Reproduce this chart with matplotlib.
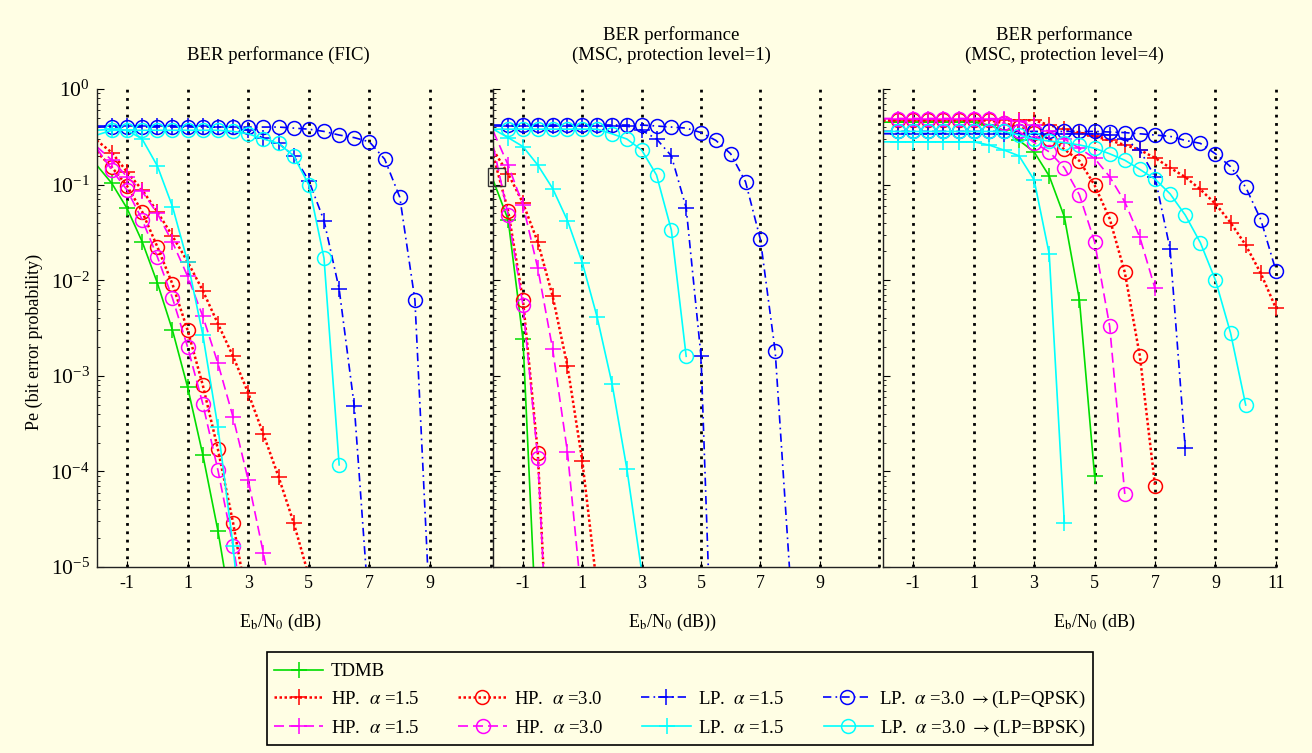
import matplotlib
matplotlib.use('Agg')
import matplotlib.pyplot as plt
from matplotlib.lines import Line2D
from matplotlib.patches import Rectangle

# Eb/N0 grid (dB), every curve starts at -2 dB
EBN0 = [-2.0, -1.5, -1.0, -0.5, 0.0, 0.5, 1.0, 1.5, 2.0, 2.5, 3.0, 3.5, 4.0, 4.5,
        5.0, 5.5, 6.0, 6.5, 7.0, 7.5, 8.0, 8.5, 9.0, 9.5, 10.0, 10.5, 11.0]

# ---- panel 1: FIC ----
FIC_TDMB = [0.16, 0.103, 0.0565, 0.0253, 0.0094, 0.003, 7.6e-4, 1.5e-4, 2.4e-5, 2.7e-6]
FIC_HP15_RED = [0.29, 0.216, 0.136, 0.088, 0.052, 0.029, 0.0156, 0.0078, 0.0035, 0.0016,
                6.6e-4, 2.45e-4, 8.8e-5, 2.9e-5, 8e-6]
FIC_HP30_RED = [0.22, 0.152, 0.097, 0.052, 0.0224, 0.0091, 0.003, 8.0e-4, 1.7e-4, 2.9e-5, 3.8e-6]
FIC_LP15_BLUE = [0.41, 0.41, 0.41, 0.41, 0.41, 0.41, 0.41, 0.41, 0.40, 0.40, 0.37, 0.305,
                 0.27, 0.20, 0.11, 0.042, 0.0081, 4.8e-4, 3e-6]
FIC_LP30_BLUE = [0.40, 0.40, 0.40, 0.40, 0.40, 0.40, 0.40, 0.40, 0.40, 0.40, 0.40, 0.40,
                 0.40, 0.39, 0.38, 0.36, 0.33, 0.31, 0.28, 0.185, 0.074, 0.0062, 3e-6]
FIC_HP15_MAG = [0.25, 0.18, 0.121, 0.085, 0.05, 0.025, 0.011, 0.0042, 0.00135, 3.7e-4,
                8.1e-5, 1.4e-5, 2e-6]
FIC_HP30_MAG = [0.24, 0.142, 0.088, 0.043, 0.0176, 0.0065, 0.002, 5.1e-4, 1.03e-4, 1.66e-5, 2e-6]
FIC_LP15_CYAN = [0.37, 0.38, 0.37, 0.30, 0.157, 0.059, 0.0156, 0.0027, 2.9e-4, 1.66e-5, 4e-7]
FIC_LP30_CYAN = [0.33, 0.37, 0.37, 0.37, 0.37, 0.37, 0.37, 0.37, 0.37, 0.36, 0.34, 0.30,
                 0.27, 0.20, 0.099, 0.017, 1.17e-4]

# ---- panel 2: MSC, protection level 1 ----
MSC1_TDMB = [0.11, 0.043, 0.0024, 1e-6]
MSC1_HP15_RED = [0.23, 0.13, 0.064, 0.025, 0.0068, 0.00126, 1.28e-4, 6e-6]
MSC1_HP30_RED = [0.2, 0.053, 0.0062, 1.55e-4, 1e-7]
MSC1_LP15_BLUE = [0.41, 0.41, 0.41, 0.41, 0.41, 0.41, 0.41, 0.41, 0.41, 0.41, 0.37, 0.30,
                  0.20, 0.057, 0.0016, 5e-8]
MSC1_LP30_BLUE = [0.42, 0.42, 0.42, 0.42, 0.42, 0.42, 0.42, 0.42, 0.42, 0.42, 0.42, 0.41,
                  0.40, 0.39, 0.35, 0.29, 0.21, 0.107, 0.0268, 0.0018, 8e-6]
MSC1_HP15_MAG = [0.36, 0.16, 0.061, 0.0133, 0.0019, 1.58e-4, 4e-6]
MSC1_HP30_MAG = [0.25, 0.048, 0.0055, 1.37e-4, 1e-7]
MSC1_LP15_CYAN = [0.38, 0.31, 0.25, 0.16, 0.091, 0.042, 0.0152, 0.0041, 8.3e-4, 1.07e-4, 9e-6]
MSC1_LP30_CYAN = [0.38, 0.38, 0.38, 0.38, 0.38, 0.38, 0.38, 0.38, 0.34, 0.30, 0.23, 0.126,
                  0.0335, 0.0016]

# ---- panel 3: MSC, protection level 4 ----
MSC4_TDMB = [0.45, 0.45, 0.45, 0.45, 0.45, 0.45, 0.45, 0.42, 0.37, 0.29, 0.22, 0.123,
             0.046, 0.0062, 9e-5]
MSC4_HP15_RED = [0.47, 0.47, 0.47, 0.47, 0.47, 0.47, 0.47, 0.47, 0.47, 0.47, 0.47, 0.42,
                 0.38, 0.35, 0.32, 0.29, 0.26, 0.23, 0.19, 0.15, 0.12, 0.089, 0.063, 0.04,
                 0.0233, 0.0118, 0.0051]
MSC4_HP30_RED = [0.47, 0.47, 0.47, 0.47, 0.47, 0.47, 0.47, 0.47, 0.44, 0.40, 0.35, 0.30,
                 0.234, 0.177, 0.099, 0.044, 0.0121, 0.0016, 7.1e-5]
MSC4_LP15_BLUE = [0.34, 0.34, 0.34, 0.34, 0.34, 0.34, 0.34, 0.34, 0.34, 0.34, 0.34, 0.34,
                  0.34, 0.34, 0.34, 0.33, 0.30, 0.23, 0.12, 0.021, 1.74e-4]
MSC4_LP30_BLUE = [0.36, 0.36, 0.36, 0.36, 0.36, 0.36, 0.36, 0.36, 0.36, 0.36, 0.36, 0.36,
                  0.36, 0.36, 0.36, 0.355, 0.35, 0.34, 0.33, 0.32, 0.29, 0.27, 0.21, 0.154,
                  0.094, 0.043, 0.0126]
MSC4_HP15_MAG = [0.49, 0.49, 0.49, 0.49, 0.49, 0.49, 0.49, 0.49, 0.49, 0.46, 0.42, 0.36,
                 0.30, 0.24, 0.188, 0.121, 0.066, 0.028, 0.0082]
MSC4_HP30_MAG = [0.49, 0.49, 0.49, 0.49, 0.49, 0.49, 0.49, 0.49, 0.44, 0.36, 0.275, 0.22,
                 0.15, 0.078, 0.0253, 0.0033, 5.8e-5]
MSC4_LP15_CYAN = [0.28, 0.28, 0.28, 0.28, 0.28, 0.28, 0.28, 0.26, 0.23, 0.20, 0.112,
                  0.0188, 2.9e-5]
MSC4_LP30_CYAN = [0.36, 0.36, 0.36, 0.36, 0.36, 0.36, 0.36, 0.36, 0.36, 0.33, 0.30, 0.285,
                  0.275, 0.26, 0.24, 0.21, 0.18, 0.144, 0.114, 0.08, 0.048, 0.0247, 0.010,
                  0.0028, 4.95e-4]

TITLES = ['BER performance (FIC)',
          'BER performance\n(MSC, protection level=1)',
          'BER performance\n(MSC, protection level=4)']
XLABELS = [r'E$_\mathrm{b}$/N$_\mathrm{0}$ (dB)',
           r'E$_\mathrm{b}$/N$_\mathrm{0}$ (dB))',
           r'E$_\mathrm{b}$/N$_\mathrm{0}$ (dB)']
XTICKS = [[-1, 1, 3, 5, 7, 9], [-1, 1, 3, 5, 7, 9], [-1, 1, 3, 5, 7, 9, 11]]
GRID_X = [-1, 1, 3, 5, 7, 9, 11]

LABELS = {
    'tdmb': 'TDMB',
    'hp15_q': r'HP.  $\alpha$ =1.5', 'hp30_q': r'HP.  $\alpha$ =3.0',
    'lp15_q': r'LP.  $\alpha$ =1.5', 'lp30_q': r'LP.  $\alpha$ =3.0 $\rightarrow$(LP=QPSK)',
    'hp15_b': r'HP.  $\alpha$ =1.5', 'hp30_b': r'HP.  $\alpha$ =3.0',
    'lp15_b': r'LP.  $\alpha$ =1.5', 'lp30_b': r'LP.  $\alpha$ =3.0 $\rightarrow$(LP=BPSK)',
}
LEGEND_ROWS = [['tdmb'],
               ['hp15_q', 'hp30_q', 'lp15_q', 'lp30_q'],
               ['hp15_b', 'hp30_b', 'lp15_b', 'lp30_b']]

DOT = (0, (1, 1))
DASH = (0, (6, 3))
DASHDOT = (0, (5, 2.5, 1, 2.5))
# color, linestyle, marker, linewidth
STYLE = {
    'tdmb': ('#00dd00', '-', '+', 1.2),
    'hp15_q': ('#ff0000', DOT, '+', 1.8),
    'hp30_q': ('#ff0000', DOT, 'o', 1.8),
    'lp15_q': ('#0000ff', DASHDOT, '+', 1.2),
    'lp30_q': ('#0000ff', DASHDOT, 'o', 1.2),
    'hp15_b': ('#ff00ff', DASH, '+', 1.2),
    'hp30_b': ('#ff00ff', DASH, 'o', 1.2),
    'lp15_b': ('#00ffff', '-', '+', 1.2),
    'lp30_b': ('#00ffff', '-', 'o', 1.2),
}
MS = {'+': 11.5, 'o': 10}

PANELS = [
    {'tdmb': FIC_TDMB, 'hp15_q': FIC_HP15_RED, 'hp30_q': FIC_HP30_RED,
     'lp15_q': FIC_LP15_BLUE, 'lp30_q': FIC_LP30_BLUE, 'hp15_b': FIC_HP15_MAG,
     'hp30_b': FIC_HP30_MAG, 'lp15_b': FIC_LP15_CYAN, 'lp30_b': FIC_LP30_CYAN},
    {'tdmb': MSC1_TDMB, 'hp15_q': MSC1_HP15_RED, 'hp30_q': MSC1_HP30_RED,
     'lp15_q': MSC1_LP15_BLUE, 'lp30_q': MSC1_LP30_BLUE, 'hp15_b': MSC1_HP15_MAG,
     'hp30_b': MSC1_HP30_MAG, 'lp15_b': MSC1_LP15_CYAN, 'lp30_b': MSC1_LP30_CYAN},
    {'tdmb': MSC4_TDMB, 'hp15_q': MSC4_HP15_RED, 'hp30_q': MSC4_HP30_RED,
     'lp15_q': MSC4_LP15_BLUE, 'lp30_q': MSC4_LP30_BLUE, 'hp15_b': MSC4_HP15_MAG,
     'hp30_b': MSC4_HP30_MAG, 'lp15_b': MSC4_LP15_CYAN, 'lp30_b': MSC4_LP30_CYAN},
]

plt.rcParams['font.family'] = ['Liberation Serif', 'DejaVu Serif']
plt.rcParams['mathtext.fontset'] = 'stix'
plt.rcParams['axes.unicode_minus'] = False
plt.rcParams['font.size'] = 13

BG = '#fffee4'
YMIN, YMAX = 1e-5, 1.0


def draw_series(ax, key, values):
    color, ls, marker, lw = STYLE[key]
    xs = EBN0[:len(values)]
    ax.plot(xs, values, color=color, linestyle=ls, linewidth=lw)
    # markers are not clipped at the axes edge, but the line is
    pts = [(x, y) for x, y in zip(xs, values) if x > -2 and y >= YMIN]
    ax.plot([p[0] for p in pts], [p[1] for p in pts], linestyle='none', marker=marker,
            markersize=MS[marker], markerfacecolor='none', markeredgecolor=color,
            markeredgewidth=1.1, clip_on=False)


def proxy(key):
    color, ls, marker, lw = STYLE[key]
    return Line2D([], [], color=color, linestyle=ls, linewidth=lw, marker=marker,
                  markersize=MS[marker], markerfacecolor='none', markeredgecolor=color,
                  markeredgewidth=1.1)


def main():
    fig = plt.figure(figsize=(13.12, 7.53), dpi=100, facecolor=BG)
    positions = [(0.0737, 0.247, 0.3003, 0.6348),
                 (0.376, 0.247, 0.294, 0.6348),
                 (0.673, 0.247, 0.2995, 0.6348)]
    xlabel_x = [0.465, 0.463, 0.538]

    for i, pos in enumerate(positions):
        ax = fig.add_axes(pos)
        ax.set_facecolor('none')
        ax.set_yscale('log')
        ax.set_xlim(-2, 11)
        ax.set_ylim(YMIN, YMAX)
        for gx in GRID_X:
            ax.axvline(gx, color='black', linestyle=(0, (1, 2)), linewidth=2, clip_on=False)
        for key, vals in PANELS[i].items():
            draw_series(ax, key, vals)

        ax.spines['top'].set_visible(False)
        ax.spines['right'].set_visible(False)
        for s in ('left', 'bottom'):
            ax.spines[s].set_color('#222222')
            ax.spines[s].set_linewidth(1.0)
        ax.set_xticks(XTICKS[i])
        ax.set_xticklabels([str(t) for t in XTICKS[i]])
        ax.tick_params(which='both', direction='in', top=False, right=False)
        ax.tick_params(axis='x', which='major', length=4, pad=6, labelsize=13)
        ax.tick_params(axis='y', which='major', length=5, pad=5, labelsize=15.5)
        ax.tick_params(axis='y', which='minor', length=2.5)
        if i > 0:
            ax.tick_params(axis='y', which='both', labelleft=False)
        else:
            ax.set_ylabel('Pe (bit error probability)', fontsize=13)
            ax.yaxis.set_label_coords(-0.136, 0.47)

        ax.set_title(TITLES[i], x=0.4615, pad=21, fontsize=13.5)
        ax.set_xlabel(XLABELS[i], fontsize=13)
        ax.xaxis.set_label_coords(xlabel_x[i], -0.094)

    # small marker box sitting on the panel 1/2 border
    fig.patches.append(Rectangle((0.3717, 0.753), 0.0132, 0.0243, transform=fig.transFigure,
                                 fill=False, edgecolor='#333333', linewidth=1.0))

    # legend: one frame, three rows laid out as separate single-row legends
    lx, ly, lw, lh = 0.2035, 0.0106, 0.6296, 0.1235
    fig.patches.append(Rectangle((lx, ly), lw, lh, transform=fig.transFigure,
                                 facecolor=BG, edgecolor='black', linewidth=1.2, zorder=1))
    row_y = [0.1078, 0.0715, 0.0328]
    for keys, yc in zip(LEGEND_ROWS, row_y):
        handles = [proxy(k) for k in keys]
        labels = [LABELS[k] for k in keys]
        if len(keys) == 1:
            handles += [Line2D([], [], alpha=0)] * 3
            labels += [''] * 3
        fig.legend(handles, labels, loc='center left', ncol=4, mode='expand',
                   bbox_to_anchor=(lx, yc, lw, 0), fontsize=13.5, handlelength=2.6,
                   handletextpad=0.4, borderpad=0.4, borderaxespad=0, frameon=False)

    fig.savefig('out.png', dpi=100, facecolor=BG)


if __name__ == '__main__':
    main()
